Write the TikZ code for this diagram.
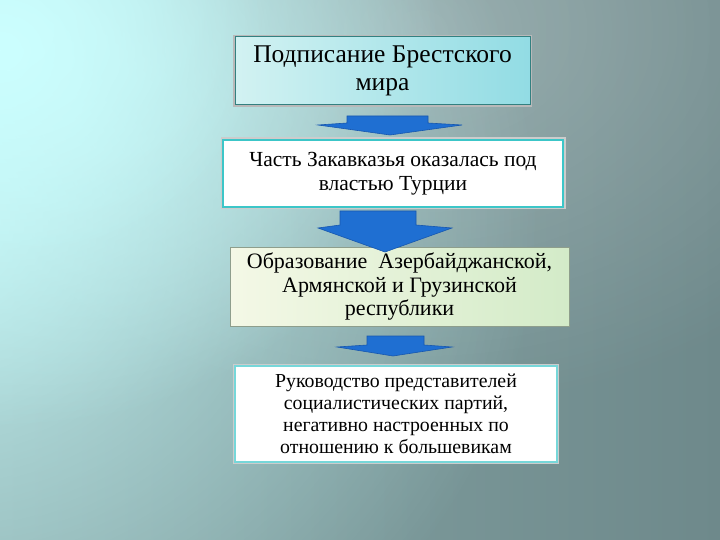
\documentclass[tikz,border=0pt]{standalone}
\usepackage{fontspec}
\setmainfont{Liberation Serif}
\usetikzlibrary{calc,fadings}
\definecolor{bgdark}{HTML}{6E898B}
\definecolor{bgmid}{HTML}{88A8A8}
\definecolor{bglight}{HTML}{CCFFFF}
\definecolor{arrowblue}{HTML}{1F6FD2}
\definecolor{arrowedge}{HTML}{1757AE}
\definecolor{tealedge}{HTML}{3CC6C8}
\definecolor{boxAl}{HTML}{D2F2F2}
\definecolor{boxAr}{HTML}{92DCE4}
\definecolor{boxCl}{HTML}{F4F8E6}
\definecolor{boxCr}{HTML}{D3EBC8}
\definecolor{boxCedge}{HTML}{8E9E8C}
\tikzfading[name=softblob, inner color=transparent!0, outer color=transparent!100]
\tikzset{
  box/.style={draw, align=center, inner sep=2pt, text=black},
  blockarrow/.style={fill=arrowblue, draw=arrowedge, line width=0.6pt, line join=miter},
  glow/.style={path fading=softblob}
}
\begin{document}
\begin{tikzpicture}[x=1pt,y=-1pt]
\useasboundingbox (0,0) rectangle (720,540);
% background
\begin{scope}
\clip (0,0) rectangle (720,540);
\shade[left color=bgmid, right color=bgdark] (0,0) rectangle (720,540);
\fill[white, glow, opacity=0.25] (420,30) ellipse (520 and 380);
\fill[bglight, glow, opacity=0.8] (-60,220) ellipse (600 and 560);
\fill[bglight, glow] (0,50) ellipse (440 and 380);
\fill[bglight, glow, opacity=0.6] (10,30) ellipse (260 and 240);
\end{scope}
% boxes
\node[box, preaction={draw=gray!55, line width=4pt}, draw=teal!60!gray, line width=1pt,
  left color=boxAl, right color=boxAr,
  minimum width=295, minimum height=68, font=\fontsize{25.5}{28}\selectfont]
  (b1) at (382.5,71) {Подписание Брестского\\мира};
\node[box, preaction={draw=gray!40, line width=5pt}, draw=tealedge, line width=2.5pt, fill=white,
  minimum width=340, minimum height=67, font=\fontsize{21.5}{24}\selectfont]
  (b2) at (393,173.5) {Часть Закавказья оказалась под\\властью Турции};
\node[box, draw=boxCedge, line width=0.8pt,
  left color=boxCl, right color=boxCr,
  minimum width=339, minimum height=79, font=\fontsize{22}{23.5}\selectfont]
  (b3) at (399.5,286.5) {Образование~ Азербайджанской,\\Армянской и Грузинской\\республики};
\node[box, preaction={draw=gray!40, line width=4pt}, draw=tealedge!70!white, line width=2pt, fill=white,
  minimum width=322, minimum height=96, font=\fontsize{19.8}{22}\selectfont]
  (b4) at (396,414) {Руководство представителей\\социалистических партий,\\негативно настроенных по\\отношению к большевикам};
% block arrows
\draw[blockarrow] (347,116) -- (428,116) -- (428,123) -- (462,125) -- (390,135) -- (318,125) -- (347,123) -- cycle;
\draw[blockarrow] (340,211) -- (416,211) -- (416,225) -- (452,228) -- (385,252) -- (318,228) -- (340,225) -- cycle;
\draw[blockarrow] (367,336) -- (424,336) -- (424,345) -- (452,347) -- (393,356) -- (337,347) -- (367,345) -- cycle;
\end{tikzpicture}
\end{document}
